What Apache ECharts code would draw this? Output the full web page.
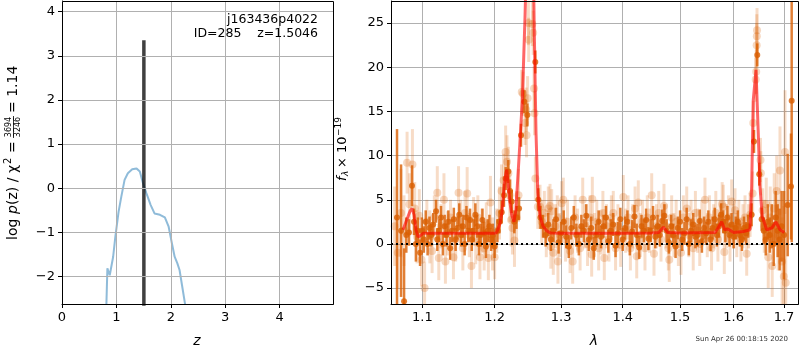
<!DOCTYPE html>
<html>
<head>
<meta charset="UTF-8">
<script src="https://cdn.jsdelivr.net/npm/echarts@6/dist/echarts.min.js"></script>
<style>
  html, body { margin: 0; background: #fff; }
  #chart { width: 800px; height: 350px; }
</style>
</head>
<body>
<div id="chart"></div>
<script>
// p(z) curve (left panel)
const pzZ   = [0.79, 0.816, 0.834, 0.877, 0.895, 0.94, 0.98, 1.04, 1.09, 1.15, 1.21, 1.29, 1.37, 1.43, 1.49, 1.55, 1.63, 1.70, 1.80, 1.89, 1.96, 2.02, 2.07, 2.12, 2.16, 2.21, 2.26, 2.29];
const pzLog = [-3.2, -2.62, -1.81, -1.97, -1.85, -1.55, -1.10, -0.53, -0.19, 0.19, 0.34, 0.43, 0.45, 0.38, 0.11, -0.11, -0.38, -0.57, -0.60, -0.66, -0.87, -1.25, -1.55, -1.70, -1.85, -2.23, -2.61, -3.0];
const zBest = 1.5046;
const zBestTop = 3.35;

// spectrum: [wavelength, flux, error]
const faintPoints = [
  [1.064, 2.0, 4.5], [1.068, -1.0, 4.0], [1.072, 3.5, 5.0], [1.076, 1.5, 4.0], [1.080, 9.2, 3.5],
  [1.083, 4.5, 3.5], [1.087, 9.0, 4.0], [1.090, 4.0, 3.0], [1.093, 0.8, 3.0], [1.096, 3.2, 3.0],
  [1.099, -1.8, 3.0], [1.103, -5.0, 3.0], [1.106, 2.5, 2.5], [1.110, 0.8, 3.0], [1.113, -0.8, 2.5],
  [1.116, 3.0, 2.5], [1.120, 5.8, 3.0], [1.122, -1.6, 2.5], [1.125, 2.0, 2.5], [1.129, 5.0, 3.0],
  [1.131, -2.0, 2.5], [1.134, 1.2, 2.5], [1.138, 3.0, 2.0], [1.142, -1.5, 2.5], [1.145, 0.5, 2.5],
  [1.149, 5.8, 3.0], [1.152, 2.5, 2.5], [1.155, -0.5, 2.5], [1.158, 3.5, 2.5], [1.161, 5.7, 3.0],
  [1.164, 1.0, 2.5], [1.167, -2.5, 2.5], [1.170, 2.8, 2.5], [1.173, 0.2, 2.5], [1.176, 3.0, 2.5],
  [1.179, -1.5, 2.5], [1.182, 1.5, 2.5], [1.185, -0.5, 2.5], [1.188, 2.2, 2.5], [1.191, -1.6, 2.5],
  [1.194, 4.7, 3.0], [1.197, 0.0, 3.0], [1.200, -1.5, 2.5], [1.203, 1.5, 2.5],
  [1.207, 3.5, 3.0], [1.210, 6.0, 3.0], [1.213, 7.2, 3.0], [1.216, 10.4, 3.0], [1.218, 9.3, 3.0],
  [1.220, 8.0, 3.0], [1.222, 5.5, 3.0], [1.224, 2.7, 3.0], [1.226, 1.8, 3.0], [1.229, 0.4, 3.0],
  [1.232, 3.0, 3.0], [1.235, 5.5, 3.0],
  [1.2398, 17.2, 2.5], [1.2418, 17.0, 2.5], [1.2447, 13.7, 2.5], [1.2465, 15.2, 2.5], [1.2470, 12.3, 2.5],
  [1.2486, 16.5, 2.5], [1.2498, 25.0, 2.5], [1.2502, 23.1, 2.5], [1.2557, 24.9, 2.5], [1.2570, 23.9, 2.5],
  [1.2583, 17.6, 2.5], [1.2590, 14.8, 2.5], [1.2603, 7.4, 2.5],
  [1.2640, 4.2, 2.5], [1.2674, 4.2, 2.5], [1.2700, 2.5, 2.5], [1.2740, 3.5, 2.5], [1.2770, 1.0, 2.5],
  [1.2801, 4.0, 2.5], [1.2827, 4.3, 2.5], [1.2840, -0.3, 2.5], [1.2853, 3.7, 2.5], [1.2878, -1.0, 2.5],
  [1.2910, 2.0, 2.5], [1.2940, 3.0, 2.5], [1.2950, -2.0, 2.5], [1.2980, 1.0, 2.5], [1.3009, 4.6, 2.5],
  [1.3034, 5.0, 2.5], [1.3070, 0.5, 2.5], [1.3100, 2.5, 2.5], [1.3140, -0.8, 2.5], [1.3182, -2.0, 2.5],
  [1.3220, 3.0, 2.5], [1.3260, 1.5, 2.5], [1.3300, -0.5, 2.5], [1.3342, 5.0, 2.5], [1.3380, 2.0, 2.5],
  [1.3420, 0.0, 2.5], [1.3460, 3.0, 2.5], [1.3487, -1.2, 2.5], [1.3497, 5.1, 2.5], [1.3530, 1.0, 2.5],
  [1.3570, 2.5, 2.5], [1.3600, -0.5, 2.5], [1.3639, 1.3, 2.5], [1.3670, 3.5, 2.5], [1.3693, -1.6, 2.5],
  [1.3730, 2.0, 2.5], [1.3770, 0.5, 2.5], [1.3810, 3.0, 2.5], [1.3842, 3.5, 2.5], [1.3880, -0.5, 2.5],
  [1.3920, 2.0, 2.5], [1.3966, -0.1, 2.5], [1.4010, 5.3, 2.5], [1.4050, 1.5, 2.5], [1.4090, 3.0, 2.5],
  [1.4130, -0.5, 2.5], [1.4170, 2.0, 2.5], [1.4210, 4.0, 2.5], [1.4238, -1.4, 2.5], [1.4265, 4.7, 2.5],
  [1.4300, 1.0, 2.5], [1.4340, 2.5, 2.5], [1.4380, -0.5, 2.5], [1.4420, 3.0, 2.5], [1.4460, 1.5, 2.5],
  [1.4497, 5.5, 2.5], [1.4537, -1.1, 2.5], [1.4580, 2.0, 2.5], [1.4620, 3.5, 2.5], [1.4660, 0.5, 2.5],
  [1.4713, 4.3, 2.5], [1.4750, 2.0, 2.5], [1.4790, -0.5, 2.5], [1.4807, -1.8, 2.5], [1.4850, 3.0, 2.5],
  [1.4890, 1.0, 2.5], [1.4930, 2.5, 2.5], [1.4970, 0.0, 2.5], [1.5017, -1.0, 2.5], [1.5060, 3.0, 2.5],
  [1.5121, 4.0, 2.5], [1.5160, 1.0, 2.5], [1.5200, 2.5, 2.5], [1.5240, -0.5, 2.5], [1.5280, 3.5, 2.5],
  [1.5320, 1.5, 2.5], [1.5360, 0.0, 2.5], [1.5400, 2.5, 2.5], [1.5457, 5.0, 2.5], [1.5500, 1.0, 2.5],
  [1.5540, 3.0, 2.5], [1.5580, -0.5, 2.5], [1.5620, 2.0, 2.5], [1.5660, 3.5, 2.5], [1.5700, 0.5, 2.5],
  [1.5740, 2.5, 2.5], [1.5780, 4.5, 2.5], [1.5802, 4.2, 2.5], [1.5821, -0.9, 2.5], [1.5860, 2.0, 2.5],
  [1.5900, 3.0, 2.5], [1.5930, 0.5, 2.5], [1.5962, 4.8, 2.5], [1.6000, 2.0, 2.5], [1.6026, 3.8, 2.5],
  [1.6060, 1.0, 2.5], [1.6100, 2.5, 2.5], [1.6140, 0.5, 2.5], [1.6180, 2.0, 2.5], [1.6220, 3.0, 2.5],
  [1.6253, -1.1, 2.5], [1.6290, 2.0, 2.5], [1.6320, 3.3, 2.5],
  [1.6370, 5.7, 2.5], [1.6382, 13.7, 2.5], [1.6430, 18.6, 2.5], [1.6440, 19.5, 2.5], [1.6449, 22.5, 2.5],
  [1.6452, 23.5, 2.5], [1.6456, 24.2, 2.5], [1.6525, 9.5, 2.5], [1.6532, 8.0, 2.5], [1.6568, 3.8, 2.5],
  [1.6600, 2.0, 3.0], [1.6640, 4.5, 3.0], [1.6680, -1.5, 3.5], [1.6720, 3.0, 3.5], [1.6760, -2.5, 3.5],
  [1.6800, 4.0, 4.0], [1.6850, 6.0, 4.0], [1.6880, 1.0, 4.0], [1.6917, 8.3, 5.0], [1.6960, -2.0, 5.0],
  [1.6995, -3.7, 8.0], [1.7019, 10.4, 7.0], [1.7035, -4.4, 9.0]
];

const darkPoints = [
  [1.0670, 3.0, 10.0], [1.0722, 1.5, 7.5], [1.0761, -6.5, 6.0], [1.0790, 1.0, 2.0], [1.0825, 1.3, 1.5],
  [1.0864, 6.6, 2.3], [1.0890, 2.5, 1.5], [1.0915, 0.0, 2.0], [1.0940, 1.5, 1.5], [1.0970, -1.0, 1.5],
  [1.0995, 1.5, 1.5], [1.1020, 0.5, 1.5], [1.1045, 2.5, 1.3], [1.1070, 0.0, 1.3], [1.1095, 1.8, 1.3],
  [1.1120, 1.0, 1.3], [1.1145, 2.2, 1.3], [1.1183, 3.7, 1.3], [1.1200, 0.5, 1.3], [1.1225, 1.5, 1.3],
  [1.1250, 3.0, 1.3], [1.1275, 0.0, 1.3], [1.1300, 2.0, 1.3], [1.1325, 1.0, 1.3], [1.1350, 2.5, 1.3],
  [1.1375, -0.5, 1.3], [1.1400, 1.5, 1.3], [1.1425, 2.8, 1.3], [1.1450, 0.5, 1.3], [1.1475, 1.8, 1.3],
  [1.1500, 3.3, 1.3], [1.1525, 1.0, 1.3], [1.1550, 2.0, 1.3], [1.1575, 0.0, 1.3], [1.1600, 3.0, 1.3],
  [1.1625, 1.5, 1.3], [1.1650, 2.7, 1.3], [1.1675, 0.5, 1.3], [1.1700, 1.5, 1.3], [1.1725, 3.3, 1.3],
  [1.1750, 2.0, 1.3], [1.1775, 0.0, 1.3], [1.1800, 1.0, 1.3], [1.1825, 2.7, 1.3], [1.1850, 1.2, 1.3],
  [1.1875, -0.3, 1.3], [1.1900, 1.5, 1.3], [1.1925, 2.0, 1.3], [1.1950, 0.5, 1.3], [1.1975, 1.0, 1.3],
  [1.2000, -0.3, 1.3], [1.2040, 1.5, 1.3], [1.2070, 2.5, 1.3], [1.2103, 3.6, 1.3], [1.2135, 5.5, 1.3],
  [1.2161, 7.4, 1.3], [1.2199, 8.2, 1.3], [1.2225, 6.0, 1.3], [1.2249, 4.8, 1.3], [1.2288, 2.5, 1.3],
  [1.2320, 3.0, 1.3], [1.2358, 4.0, 1.3],
  [1.2387, 12.3, 1.3], [1.2437, 16.1, 1.3], [1.2482, 14.6, 1.3], [1.2602, 20.6, 1.3], [1.2648, 5.0, 1.3],
  [1.2680, 3.0, 1.3], [1.2720, 2.0, 1.3], [1.2760, 1.0, 1.3], [1.2800, 2.2, 1.3], [1.2840, 0.5, 1.3],
  [1.2880, 1.5, 1.3], [1.2920, 2.8, 1.3], [1.2960, 0.2, 1.3], [1.3000, 1.2, 1.3], [1.3040, 2.5, 1.3],
  [1.3080, 0.8, 1.3], [1.3120, -0.3, 1.3], [1.3160, 1.8, 1.3], [1.3200, 3.0, 1.3], [1.3240, 1.0, 1.3],
  [1.3280, 0.0, 1.3], [1.3320, 2.0, 1.3], [1.3360, 1.5, 1.3], [1.3400, 3.2, 1.3], [1.3440, 0.5, 1.3],
  [1.3480, 1.8, 1.3], [1.3520, -0.5, 1.3], [1.3560, 1.0, 1.3], [1.3600, 2.5, 1.3], [1.3640, 0.8, 1.3],
  [1.3680, 2.0, 1.3], [1.3720, 3.0, 1.3], [1.3760, 0.3, 1.3], [1.3800, 1.5, 1.3], [1.3840, 2.2, 1.3],
  [1.3880, -0.2, 1.3], [1.3920, 1.2, 1.3], [1.3960, 2.8, 1.3], [1.4000, 0.5, 1.3], [1.4040, 1.8, 1.3],
  [1.4080, 2.5, 1.3], [1.4120, 0.0, 1.3], [1.4160, 1.4, 1.3], [1.4200, 3.1, 1.3], [1.4240, 1.0, 1.3],
  [1.4280, -0.4, 1.3], [1.4320, 2.0, 1.3], [1.4360, 1.5, 1.3], [1.4400, 2.7, 1.3], [1.4440, 0.6, 1.3],
  [1.4480, 1.5, 1.3], [1.4520, 3.0, 1.3], [1.4560, 0.8, 1.3], [1.4600, 2.0, 1.3], [1.4640, 1.0, 1.3],
  [1.4680, 2.6, 1.3], [1.4720, 3.2, 1.3], [1.4760, 1.5, 1.3], [1.4800, 0.2, 1.3], [1.4840, 2.0, 1.3],
  [1.4880, 1.0, 1.3], [1.4920, -0.3, 1.3], [1.4960, 1.8, 1.3], [1.5000, 2.5, 1.3], [1.5040, 0.5, 1.3],
  [1.5080, 1.2, 1.3], [1.5120, 2.8, 1.3], [1.5160, 0.0, 1.3], [1.5200, 1.5, 1.3], [1.5240, 2.2, 1.3],
  [1.5280, 0.8, 1.3], [1.5320, 1.0, 1.3], [1.5360, 2.6, 1.3], [1.5400, 0.3, 1.3], [1.5440, 1.8, 1.3],
  [1.5480, 1.2, 1.3], [1.5520, 2.5, 1.3], [1.5560, 0.5, 1.3], [1.5600, 1.8, 1.3], [1.5640, 2.8, 1.3],
  [1.5680, 1.0, 1.3], [1.5720, 2.0, 1.3], [1.5760, 3.3, 1.3], [1.5800, 2.5, 1.3], [1.5840, 1.5, 1.3],
  [1.5880, 3.0, 1.3], [1.5920, 1.0, 1.3], [1.5960, 2.2, 1.3], [1.6000, 0.8, 1.3], [1.6040, 1.8, 1.3],
  [1.6080, 2.5, 1.3], [1.6120, 1.0, 1.3], [1.6160, 0.5, 1.3], [1.6200, 1.8, 1.3], [1.6240, 1.2, 1.3],
  [1.6280, 2.0, 1.3], [1.6350, 3.3, 1.3],
  [1.6396, 11.6, 1.3], [1.6461, 21.4, 1.3], [1.6500, 7.9, 1.3], [1.6548, 2.8, 1.3],
  [1.6590, 1.5, 1.5], [1.6630, 0.5, 1.8], [1.6670, 2.5, 2.0], [1.6710, 1.0, 2.0], [1.6750, 2.0, 2.5],
  [1.6790, 0.0, 2.5], [1.6830, 3.0, 3.0], [1.6870, 1.5, 3.0], [1.6910, 0.5, 3.5], [1.6950, 2.0, 4.0],
  [1.7000, 1.0, 5.0], [1.7075, 4.4, 5.8], [1.7143, 6.5, 6.0], [1.7157, 16.2, 16.0]
];

// best-fit model: [wavelength, flux]
const modelPoints = [
  [1.0748, 1.6], [1.0790, 2.6], [1.0838, 3.7], [1.0864, 4.0], [1.0891, 3.3], [1.0917, 1.6],
  [1.0943, 0.8], [1.0970, 0.9], [1.1009, 1.2], [1.1500, 1.2], [1.2000, 1.2], [1.2030, 1.3],
  [1.2078, 2.3], [1.2107, 3.6], [1.2126, 5.4], [1.2150, 7.4], [1.2176, 8.4], [1.2199, 6.6],
  [1.2225, 4.6], [1.2249, 3.3], [1.2283, 2.5], [1.2310, 3.8], [1.2323, 5.4], [1.2362, 10.3],
  [1.2407, 16.3], [1.2447, 25.7], [1.2482, 36], [1.2510, 44], [1.2530, 46], [1.2555, 40],
  [1.2587, 23.9], [1.2613, 12.5], [1.2640, 5.8], [1.2674, 3.1], [1.2720, 2.0], [1.2776, 1.5],
  [1.2830, 1.25], [1.3000, 1.2], [1.4000, 1.2], [1.4500, 1.25], [1.4620, 1.3], [1.4701, 1.9],
  [1.4780, 1.3], [1.5000, 1.25], [1.5650, 1.3], [1.5771, 2.5], [1.5830, 1.6], [1.5878, 1.7],
  [1.5940, 1.5], [1.6000, 1.3], [1.6187, 1.4], [1.6317, 1.6], [1.6350, 6.5], [1.6382, 16.3],
  [1.6436, 19.7], [1.6481, 12.5], [1.6515, 6.5], [1.6560, 3.1], [1.6648, 1.6], [1.6749, 1.8],
  [1.6836, 2.5], [1.6917, 1.6], [1.7005, 1.3]
];

const lamMin = 1.0593, lamMax = 1.7288;
const lamTicks = [1.1, 1.2, 1.3, 1.4, 1.5, 1.6, 1.7];
const fluxTicks = [-5, 0, 5, 10, 15, 20, 25];
const pzXTicks = [0, 1, 2, 3, 4];
const pzYTicks = [-2, -1, 0, 1, 2, 3, 4];

const FONT = 'DejaVu Sans';
const GRID_GRAY = '#b0b0b0';
const minus = v => (v < 0 ? '\u2212' + Math.abs(v) : String(v));

function axisParts(ticks, fmt) {
  return {
    axisLine: { show: true, onZero: false, lineStyle: { color: '#000', width: 1 } },
    axisTick: { show: true, length: 4, customValues: ticks, lineStyle: { color: '#000', width: 1 } },
    splitLine: { show: true, lineStyle: { color: GRID_GRAY, width: 1 } },
    axisLabel: { margin: 7, customValues: ticks, formatter: fmt, color: '#000', fontFamily: FONT, fontSize: 13 }
  };
}

function errorBars(points, color, width) {
  return {
    type: 'custom', xAxisIndex: 1, yAxisIndex: 1, clip: true, silent: true,
    data: points.map(p => [p[0], p[1] - p[2], p[1] + p[2]]),
    encode: { x: 0, y: [1, 2] },
    renderItem: (params, api) => {
      const lo = api.coord([api.value(0), api.value(1)]);
      const hi = api.coord([api.value(0), api.value(2)]);
      return {
        type: 'line',
        shape: { x1: lo[0], y1: lo[1], x2: hi[0], y2: hi[1] },
        style: { stroke: color, lineWidth: width }
      };
    }
  };
}

const chart = echarts.init(document.getElementById('chart'));

const T = (x, y, text, font, align) => ({
  type: 'text', x, y, rotation: Math.PI / 2,
  style: { text, font, fill: '#000', align: align || 'left', verticalAlign: 'middle' }
});

chart.setOption({
  animation: false,
  backgroundColor: '#fff',
  grid: [
    { left: 62, top: 1, width: 271, height: 303 },
    { left: 391, top: 1, width: 407, height: 303 }
  ],
  xAxis: [
    Object.assign({ type: 'value', gridIndex: 0, min: 0, max: 4.98 }, axisParts(pzXTicks, v => String(v))),
    Object.assign({ type: 'log', logBase: 10, gridIndex: 1, min: lamMin, max: lamMax }, axisParts(lamTicks, v => Number(v).toFixed(1)))
  ],
  yAxis: [
    Object.assign({ type: 'value', gridIndex: 0, min: -2.62, max: 4.24 }, axisParts(pzYTicks, minus)),
    Object.assign({ type: 'value', gridIndex: 1, min: -6.8, max: 27.5 }, axisParts(fluxTicks, minus))
  ],
  series: [
    {
      type: 'line', xAxisIndex: 0, yAxisIndex: 0, showSymbol: false, silent: true,
      data: pzZ.map((z, i) => [z, pzLog[i]]),
      lineStyle: { color: 'rgba(31,119,180,0.5)', width: 2 },
      // grid lines of the left panel, placed at the tick values
      markLine: {
        silent: true, symbol: 'none', label: { show: false }, animation: false,
        lineStyle: { color: GRID_GRAY, width: 1, type: 'solid' },
        emphasis: { disabled: true },
        data: pzXTicks.map(v => ({ xAxis: v })).concat(pzYTicks.map(v => ({ yAxis: v })))
      }
    },
    {
      type: 'line', xAxisIndex: 0, yAxisIndex: 0, showSymbol: false, silent: true,
      data: [[zBest, -3], [zBest, zBestTop]],
      lineStyle: { color: 'rgba(0,0,0,0.75)', width: 3.5 }
    },
    {
      type: 'line', xAxisIndex: 1, yAxisIndex: 1, showSymbol: false, silent: true,
      data: [[lamMin, 0], [lamMax, 0]],
      lineStyle: { color: '#000', width: 2, type: [2, 3] }
    },
    errorBars(faintPoints, 'rgba(217,95,2,0.22)', 3),
    {
      type: 'scatter', xAxisIndex: 1, yAxisIndex: 1, silent: true, clip: true,
      symbolSize: 8, data: faintPoints.map(p => [p[0], p[1]]),
      itemStyle: { color: 'rgba(217,95,2,0.3)' }
    },
    errorBars(darkPoints, 'rgba(217,95,2,0.8)', 2.5),
    {
      type: 'scatter', xAxisIndex: 1, yAxisIndex: 1, silent: true, clip: true,
      symbolSize: 6, data: darkPoints.map(p => [p[0], p[1]]),
      itemStyle: { color: '#d95f02' }
    },
    {
      type: 'line', xAxisIndex: 1, yAxisIndex: 1, showSymbol: false, silent: true,
      data: modelPoints,
      lineStyle: { color: 'rgba(255,0,0,0.6)', width: 3 }
    }
  ],
  graphic: [
    { type: 'rect', shape: { x: 62.5, y: 1.5, width: 271, height: 303 }, style: { fill: null, stroke: '#000', lineWidth: 1 }, z: 10, silent: true },
    { type: 'rect', shape: { x: 391.5, y: 1.5, width: 407, height: 303 }, style: { fill: null, stroke: '#000', lineWidth: 1 }, z: 10, silent: true },
    { type: 'text', x: 318, y: 20, style: { text: 'j163436p4022', font: '12.5px "DejaVu Sans"', fill: '#000', align: 'right', verticalAlign: 'middle' }, z: 10 },
    { type: 'text', x: 318, y: 34, style: { text: 'ID=285    z=1.5046', font: '12.5px "DejaVu Sans"', fill: '#000', align: 'right', verticalAlign: 'middle' }, z: 10 },
    { type: 'text', x: 197, y: 341, style: { text: 'z', font: 'italic 14px "DejaVu Sans"', fill: '#000', align: 'center', verticalAlign: 'middle' } },
    { type: 'text', x: 594, y: 341, style: { text: 'λ', font: 'italic 14px "DejaVu Sans"', fill: '#000', align: 'center', verticalAlign: 'middle' } },
    { type: 'text', x: 788, y: 339, style: { text: 'Sun Apr 26 00:18:15 2020', font: '7px "DejaVu Sans"', fill: '#333', align: 'right', verticalAlign: 'middle' } },
    // left y label, rotated, in pieces
    T(13, 240, 'log', '14px "DejaVu Sans"'),
    T(13, 214, 'p', 'italic 14px "DejaVu Sans"'),
    T(13, 205, '(z) / χ', '14px "DejaVu Sans"'),
    T(8, 164, '2', '10px "DejaVu Sans"'),
    T(13, 153, '=', '14px "DejaVu Sans"'),
    T(9, 127, '3694', '8px "DejaVu Sans"', 'center'),
    T(18, 127, '3246', '8px "DejaVu Sans"', 'center'),
    { type: 'line', shape: { x1: 13.5, y1: 116, x2: 13.5, y2: 138 }, style: { stroke: '#000', lineWidth: 0.8 } },
    T(13, 113, '= 1.14', '14px "DejaVu Sans"'),
    // right y label, rotated
    T(343, 181, 'f', 'italic 13px "DejaVu Sans"'),
    T(346, 176, 'λ', 'italic 9px "DejaVu Sans"'),
    T(343, 168, '× 10', '13px "DejaVu Sans"'),
    T(339, 136, '−19', '9px "DejaVu Sans"')
  ]
});
</script>
</body>
</html>
